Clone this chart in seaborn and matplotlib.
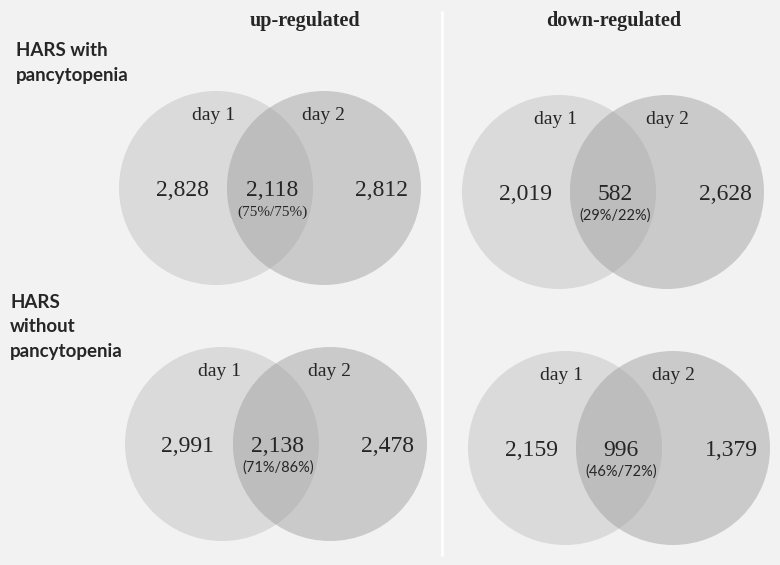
"""
Venn diagrams of differentially expressed genes, day 1 vs day 2,
for HARS patients with and without pancytopenia.
"""

import matplotlib
matplotlib.use("Agg")
import matplotlib.pyplot as plt
from matplotlib.patches import Circle
import seaborn as sns

# ─── Data ────────────────────────────────────────────────────────
columns = ["up-regulated", "down-regulated"]
rows = ["HARS with\npancytopenia", "HARS\nwithout\npancytopenia"]
set_labels = ["day 1", "day 2"]

# panel order: up/with, down/with, up/without, down/without
only_day1 = [2828, 2019, 2991, 2159]
shared = [2118, 582, 2138, 996]
only_day2 = [2812, 2628, 2478, 1379]
pct_day1 = [75, 29, 71, 46]
pct_day2 = [75, 22, 86, 72]

# ─── Layout (pixels, y downwards) ────────────────────────────────
W, H = 780, 565
BG = "#f2f2f2"
C_LEFT, C_RIGHT, C_BOTH = "#dadada", "#cacaca", "#bdbdbd"
panel_x = [270, 613, 276, 619]
panel_y = [188, 192, 444, 448]
HALF_GAP = 54
RADIUS = 97

SERIF = ["Liberation Serif", "DejaVu Serif"]
SANS = ["Lato", "DejaVu Sans"]

sns.set_theme(style="white")
plt.rcParams["font.family"] = SERIF

fig = plt.figure(figsize=(W / 100, H / 100), dpi=100, facecolor=BG)
ax = fig.add_axes([0, 0, 1, 1])
ax.set_facecolor(BG)
ax.set_xlim(0, W)
ax.set_ylim(H, 0)
ax.set_aspect("equal")
ax.axis("off")

# separator between the two columns
ax.plot([442, 442], [12, 555], color="white", lw=2)

# column headers
for x, name in zip([305, 614], columns):
    ax.text(x, 21, name, ha="center", va="center", fontsize=14.5,
            fontweight="bold", family=SERIF)

# row headers
for (x, y), name in zip([(16, 63), (10, 327)], rows):
    ax.text(x, y, name, ha="left", va="center", fontsize=13.5,
            fontweight="bold", family=SANS, linespacing=1.5)

# ─── Venn panels ─────────────────────────────────────────────────
for i in range(4):
    cx, cy = panel_x[i], panel_y[i]
    left = Circle((cx - HALF_GAP, cy), RADIUS, facecolor=C_LEFT, edgecolor="none")
    right = Circle((cx + HALF_GAP, cy), RADIUS, facecolor=C_RIGHT, edgecolor="none")
    ax.add_patch(left)
    ax.add_patch(right)
    both = Circle((cx - HALF_GAP, cy), RADIUS, facecolor=C_BOTH, edgecolor="none")
    ax.add_patch(both)
    both.set_clip_path(right)

    ax.text(cx - 57, cy - 72, set_labels[0], ha="center", va="center", fontsize=14)
    ax.text(cx + 54, cy - 72, set_labels[1], ha="center", va="center", fontsize=14)
    ax.text(cx - 88, cy + 2, f"{only_day1[i]:,}", ha="center", va="center", fontsize=17)
    ax.text(cx + 2, cy + 2, f"{shared[i]:,}", ha="center", va="center", fontsize=17)
    ax.text(cx + 112, cy + 2, f"{only_day2[i]:,}", ha="center", va="center", fontsize=17)
    # the first panel's percentages are set in the serif face, the rest in sans
    ax.text(cx + 2, cy + 24, f"({pct_day1[i]}%/{pct_day2[i]}%)", ha="center",
            va="center", fontsize=11 if i == 0 else 10.5,
            family=SERIF if i == 0 else SANS)

fig.savefig("out.png", dpi=100, facecolor=BG)
plt.close(fig)
